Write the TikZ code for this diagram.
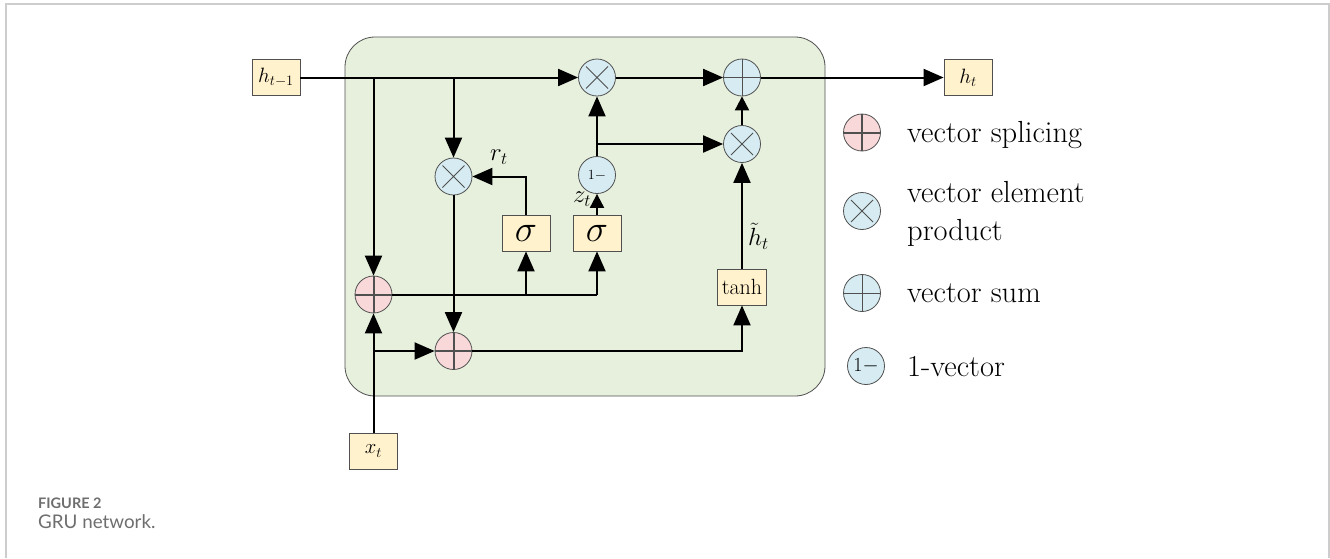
\documentclass[tikz,border=0pt]{standalone}
\usepackage{fontspec}
\newfontfamily\capfont{Lato}
\usetikzlibrary{arrows.meta}
\definecolor{cellg}{RGB}{231,240,221}
\definecolor{boxy}{RGB}{255,242,204}
\definecolor{opb}{RGB}{214,236,242}
\definecolor{opp}{RGB}{249,216,218}
\definecolor{edgeg}{RGB}{80,80,80}
\definecolor{capg}{RGB}{110,110,110}
\definecolor{frameg}{RGB}{205,205,205}
\tikzset{
  conn/.style={line width=2pt, -{Triangle[length=20pt,width=17pt]}},
  connshort/.style={line width=2pt, -{Triangle[length=14pt,width=14pt]}},
  plain/.style={line width=2pt},
  vbox/.style={draw=edgeg, line width=0.8pt, fill=boxy, minimum width=48pt, minimum height=36pt, inner sep=0pt},
  opc/.style={circle, draw=edgeg, line width=0.8pt, fill=opb, minimum size=37pt, inner sep=0pt},
  mult/.style={opc, path picture={\draw[line width=1pt] (path picture bounding box.center) ++(-11pt,-11pt) -- ++(22pt,22pt) (path picture bounding box.center) ++(-11pt,11pt) -- ++(22pt,-22pt);}},
  vsum/.style={opc, path picture={\draw[line width=1pt] (path picture bounding box.north) -- (path picture bounding box.south) (path picture bounding box.west) -- (path picture bounding box.east);}},
  splice/.style={opc, fill=opp, path picture={\draw[line width=2pt] (path picture bounding box.north) -- (path picture bounding box.south) (path picture bounding box.west) -- (path picture bounding box.east);}},
  lbl/.style={font=\fontsize{24}{28}\selectfont, inner sep=0pt},
  legtext/.style={font=\fontsize{30.5}{34}\selectfont, anchor=west, inner sep=0pt},
}
\begin{document}
\begin{tikzpicture}[x=1pt,y=-1pt]
\useasboundingbox (0,0) rectangle (1330,558);
% frame
\draw[frameg, line width=1.5pt] (6,558) -- (6,4) -- (1329,4) -- (1329,558);
% cell
\draw[edgeg, line width=0.8pt, fill=cellg, rounded corners=30pt] (345,37) rectangle (825,396);
% boxes
\node[vbox] (hprev) at (276,77.5) {\fontsize{21}{24}\selectfont $h_{t-1}$};
\node[vbox] (hnext) at (968,77.5) {\fontsize{22}{24}\selectfont $h_t$};
\node[vbox] (xt) at (373.5,451) {\fontsize{22}{24}\selectfont $x_t$};
\node[vbox] (sig1) at (526,233) {\fontsize{25}{28}\selectfont\scalebox{1.5}{$\sigma$}};
\node[vbox] (sig2) at (597,233) {\fontsize{25}{28}\selectfont\scalebox{1.5}{$\sigma$}};
\node[vbox, minimum width=49pt] (tanh) at (742,287) {\fontsize{22}{24}\selectfont tanh};
% operators
\node[mult] (mtop) at (597,77.5) {};
\node[vsum] (ptop) at (742,77.5) {};
\node[mult] (mright) at (742,144) {};
\node[mult] (mr) at (453.5,176.5) {};
\node[opc] (om) at (597,175) {\fontsize{14}{16}\selectfont 1$-$};
\node[splice] (s1) at (373.5,294.5) {};
\node[splice] (s2) at (453.5,351) {};
% junctions
\coordinate (j1) at (373.5,77.5);
\coordinate (j2) at (453.5,77.5);
\coordinate (j3) at (373.5,351);
\coordinate (j4) at (526,294.5);
\coordinate (j5) at (597,294.5);
\coordinate (j6) at (526,176.5);
\coordinate (j7) at (597,144);
\coordinate (j8) at (742,351);
% connectors
\draw[conn] (hprev.east) -- (mtop.west);
\draw[conn] (mtop.east) -- (ptop.west);
\draw[conn] (ptop.east) -- (hnext.west);
\draw[conn] (j1) -- (s1.north);
\draw[conn] (j2) -- (mr.north);
\draw[conn] (mr.south) -- (s2.north);
\draw[conn] (xt.north) -- (s1.south);
\draw[conn] (j3) -- (s2.west);
\draw[plain] (s1.east) -- (j5);
\draw[conn] (j4) -- (sig1.south);
\draw[conn] (j5) -- (sig2.south);
\draw[conn] (sig1.north) -- (j6) -- (mr.east);
\draw[connshort] (sig2.north) -- (om.south);
\draw[conn] (om.north) -- (mtop.south);
\draw[conn] (j7) -- (mright.west);
\draw[connshort] (mright.north) -- (ptop.south);
\draw[conn] (s2.east) -- (j8) -- (tanh.south);
\draw[conn] (tanh.north) -- (mright.south);
% labels
\node[lbl] (rt) at (499,157) {$r_t$};
\node[lbl] (zt) at (582,199) {$z_t$};
\node[lbl, anchor=west] (ht) at (748,236) {$\tilde{h}_t$};
% legend
\node[splice] (lg1) at (862,132.5) {};
\node[mult] (lg2) at (862,211) {};
\node[vsum] (lg3) at (862,293) {};
\node[opc] (lg4) at (866,366) {\fontsize{20}{22}\selectfont 1$-$};
\node[legtext] (lt1) at (907,135) {vector splicing};
\node[legtext] (lt2) at (907,192) {vector element};
\node[legtext] (lt2b) at (907,233) {product};
\node[legtext] (lt3) at (907,293) {vector sum};
\node[legtext] (lt4) at (907,367) {1-vector};
% caption
\node[anchor=base west, inner sep=0pt, text=capg, font=\capfont\bfseries\fontsize{14.5}{16}\selectfont] (cap1) at (38,508) {FIGURE 2};
\node[anchor=base west, inner sep=0pt, text=capg, font=\capfont\fontsize{18.8}{20}\selectfont] (cap2) at (38,528) {GRU network.};
\end{tikzpicture}
\end{document}
